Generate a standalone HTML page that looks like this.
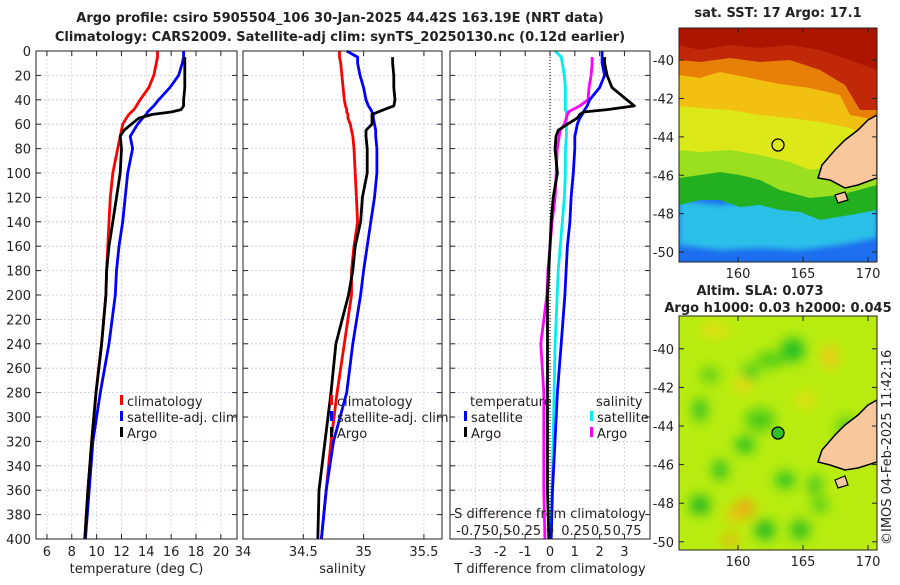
<!DOCTYPE html>
<html><head><meta charset="utf-8"><style>
body{margin:0;background:#fff;}
svg text{font-family:"DejaVu Sans","Liberation Sans",sans-serif;fill:#222;}
.t{font-size:13px;}
.b{font-weight:bold;font-size:13px;}
</style></head><body>
<svg id="c" width="900" height="580" viewBox="0 0 900 580" xmlns="http://www.w3.org/2000/svg">
<defs>
<filter id="bl" x="-20%" y="-20%" width="140%" height="140%"><feGaussianBlur stdDeviation="6"/></filter>
<filter id="bl2"><feGaussianBlur stdDeviation="3"/></filter>
<clipPath id="cm1"><rect x="679" y="28" width="198" height="234"/></clipPath>
<clipPath id="cm2"><rect x="679" y="316" width="198" height="234"/></clipPath>
</defs>
<text class="b" x="340" y="22" text-anchor="middle">Argo profile: csiro 5905504_106 30-Jan-2025 44.42S 163.19E (NRT data)</text>
<text class="b" x="340" y="41" text-anchor="middle">Climatology: CARS2009. Satellite-adj clim: synTS_20250130.nc (0.12d earlier)</text>
<g id="panels"></g>

<g clip-path="url(#cm1)">
<rect x="679" y="28" width="198" height="234" fill="#1e6ef0"/>
<path d="M679,200 L720,205 L760,200 L800,205 L840,205 L877,195 L877,238 L840,245 L800,250 L760,248 L720,250 L679,245Z" fill="#2cc0e8" filter="url(#bl2)"/>
<path d="M679,28 H877 V210 L850,215 L820,220 L800,212 L780,210 L760,205 L740,207 L720,200 L700,200 L679,205Z" fill="#22b020"/>
<path d="M679,28 H877 V185 L840,195 L810,198 L780,190 L760,180 L740,175 L720,172 L700,175 L679,178Z" fill="#9be020"/>
<path d="M679,28 H877 V160 L840,165 L810,170 L790,162 L760,155 L730,150 L700,152 L679,150Z" fill="#dde818"/>
<path d="M679,28 H877 V140 L850,128 L820,122 L790,118 L760,115 L730,110 L700,108 L679,106Z" fill="#f2c010"/>
<path d="M679,28 H877 V120 L850,115 L840,95 L810,88 L780,84 L750,78 L720,72 L700,78 L679,75Z" fill="#e88008"/>
<path d="M679,28 H877 V110 L860,110 L845,85 L820,70 L790,60 L760,62 L730,58 L700,62 L679,60Z" fill="#c02808"/>
<path d="M679,28 H877 V70 L850,60 L820,50 L790,45 L760,48 L730,45 L700,50 L679,45Z" fill="#a81000" opacity="0.8"/>
<path d="M877,115 L868,120 L858,130 L845,140 L835,150 L822,165 L818,178 L830,180 L845,188 L858,185 L877,178Z" fill="#f8c89c" stroke="#000" stroke-width="1.5"/>
<path d="M835,195 L845,192 L848,200 L838,203Z" fill="#f8c89c" stroke="#000" stroke-width="1.2"/>
<circle cx="778" cy="145" r="6" fill="none" stroke="#000" stroke-width="1.3"/>
</g>
<rect x="679" y="28" width="198" height="234" fill="none" stroke="#222" stroke-width="1"/>
<text class="b" x="778" y="17" text-anchor="middle">sat. SST: 17 Argo: 17.1</text>

<g clip-path="url(#cm2)">
<rect x="679" y="316" width="198" height="234" fill="#b8ec10"/>
<g filter="url(#bl)">
<ellipse cx="793" cy="350" rx="12" ry="12" fill="#22c020"/>
<ellipse cx="750" cy="373" rx="8" ry="8" fill="#30c820"/>
<ellipse cx="710" cy="375" rx="10" ry="8" fill="#60d018"/>
<ellipse cx="770" cy="360" rx="15" ry="8" fill="#50cc18"/>
<ellipse cx="700" cy="410" rx="7" ry="12" fill="#30c020"/>
<ellipse cx="760" cy="420" rx="15" ry="12" fill="#50cc18"/>
<ellipse cx="745" cy="445" rx="10" ry="8" fill="#22c020"/>
<ellipse cx="720" cy="470" rx="8" ry="10" fill="#30c020"/>
<ellipse cx="785" cy="480" rx="10" ry="8" fill="#22c020"/>
<ellipse cx="700" cy="505" rx="10" ry="10" fill="#22b820"/>
<ellipse cx="765" cy="530" rx="10" ry="10" fill="#22b820"/>
<ellipse cx="800" cy="530" rx="10" ry="10" fill="#30c020"/>
<ellipse cx="815" cy="485" rx="6" ry="10" fill="#30c020"/>
<ellipse cx="820" cy="505" rx="8" ry="8" fill="#50cc18"/>
<ellipse cx="846" cy="430" rx="10" ry="15" fill="#60d018"/>
<ellipse cx="745" cy="508" rx="10" ry="8" fill="#f0a010"/>
<ellipse cx="735" cy="515" rx="8" ry="8" fill="#f0c010"/>
<ellipse cx="730" cy="540" rx="8" ry="6" fill="#f0b010"/>
<ellipse cx="830" cy="357" rx="8" ry="12" fill="#f0c818"/>
<ellipse cx="743" cy="385" rx="8" ry="8" fill="#f0d818"/>
<ellipse cx="715" cy="330" rx="15" ry="6" fill="#ecdc18"/>
<ellipse cx="805" cy="400" rx="8" ry="8" fill="#ecdc18"/>
</g>
<path d="M877,400 L868,405 L858,415 L845,425 L835,435 L822,450 L818,462 L830,465 L845,470 L858,468 L877,462Z" fill="#f8c89c" stroke="#000" stroke-width="1.5"/>
<path d="M835,480 L845,476 L848,485 L838,488Z" fill="#f8c89c" stroke="#000" stroke-width="1.2"/>
<circle cx="778" cy="433" r="6" fill="#30c020" stroke="#000" stroke-width="1.3"/>
</g>
<rect x="679" y="316" width="198" height="234" fill="none" stroke="#222" stroke-width="1"/>
<text class="b" x="760" y="295" text-anchor="middle">Altim. SLA: 0.073</text>
<text class="b" x="778" y="312" text-anchor="middle">Argo h1000: 0.03 h2000: 0.045</text>
<text class="t" x="0" y="0" transform="translate(891,545) rotate(-90)">©IMOS 04-Feb-2025 11:42:16</text>
<g id="mapaxes"></g>
</svg>
<script>
var NS="http://www.w3.org/2000/svg";
var P=document.getElementById('panels');
var depths=[0,5,10,20,30,40,45,48,50,52,55,60,65,70,80,100,120,140,160,180,200,240,280,320,360,400];
var tempClim=[14.9,14.9,14.8,14.6,14.2,13.5,13.2,13.0,12.8,12.6,12.4,12.1,12.0,11.9,11.7,11.3,11.1,11.0,10.9,10.8,10.75,10.4,9.95,9.6,9.3,9.05];
var tempSat=[17.0,17.0,16.9,16.6,15.9,15.0,14.6,14.3,14.1,14.0,13.7,13.3,13.0,12.7,12.9,12.5,12.3,12.1,11.8,11.6,11.5,11.0,10.3,9.7,9.4,9.1];
var tempArgo=[null,17.1,17.1,17.1,17.1,17.0,17.0,16.8,16.0,14.5,13.4,12.8,12.2,11.9,12.0,11.9,11.6,11.3,11.0,10.8,10.75,10.4,9.95,9.6,9.3,9.05];
var salClim=[34.80,34.80,34.81,34.82,34.83,34.84,34.85,34.86,34.86,34.87,34.87,34.89,34.90,34.91,34.92,34.93,34.94,34.95,34.92,34.90,34.90,34.84,34.78,34.73,34.69,34.65];
var salSat=[34.86,34.95,34.95,34.97,35.00,35.02,35.04,35.06,35.07,35.08,35.08,35.09,35.10,35.10,35.11,35.11,35.09,35.06,35.03,35.00,34.975,34.91,34.86,34.75,34.69,34.65];
var salArgo=[null,35.24,35.24,35.25,35.25,35.26,35.25,35.17,35.12,35.07,35.07,35.07,35.02,35.02,35.03,35.03,34.99,34.975,34.93,34.91,34.875,34.77,34.73,34.68,34.63,34.62];
var dTSat=[2.1,2.1,2.1,2.2,2.0,1.6,1.5,1.4,1.35,1.3,1.2,1.1,1.05,1.0,1.0,0.94,0.85,0.8,0.7,0.65,0.6,0.45,0.3,0.2,0.1,0.05];
var dTArgo=[null,2.2,2.2,2.3,2.5,3.1,3.4,2.3,1.35,1.2,1.1,0.7,0.33,0.24,0.2,0.3,0.13,0.05,0.0,-0.05,-0.1,-0.1,-0.1,-0.1,-0.1,-0.05];
var dSSat=[0.05,0.11,0.12,0.14,0.15,0.15,0.15,0.15,0.16,0.16,0.16,0.16,0.16,0.16,0.15,0.15,0.14,0.12,0.1,0.08,0.07,0.05,0.04,0.03,0.02,0.01];
var dSArgo=[null,0.41,0.41,0.40,0.38,0.37,0.29,0.22,0.18,0.17,0.16,0.14,0.1,0.09,0.07,0.06,0.05,0.02,0.0,-0.02,-0.03,-0.09,-0.06,-0.06,-0.06,-0.05];
var yTicks=[0,20,40,60,80,100,120,140,160,180,200,220,240,260,280,300,320,340,360,380,400];
var tTicks=[6,8,10,12,14,16,18,20];
var sTicks=[34,34.5,35,35.5];
var dTicks=[-3,-2,-1,0,1,2,3];
var dSTicks=[-0.75,-0.5,-0.25,0,0.25,0.5,0.75];
var dSLabels=['-0.75','-0.5','-0.25','0','0.25','0.5','0.75'];
var Y0=51,Y1=539;
function y(d){return Y0+(d/400)*(Y1-Y0);}
function mk(tag,at,par){var e=document.createElementNS(NS,tag);for(var k in at)e.setAttribute(k,at[k]);(par||P).appendChild(e);return e;}
function txt(s,x,yy,anchor,par){var e=mk('text',{x:x,y:yy,'text-anchor':anchor||'middle','class':'t'},par);e.textContent=s;return e;}
var panels=[
 {x0:36,x1:237,min:5.12,max:21.3,ticks:tTicks,label:'temperature (deg C)',name:'temperature'},
 {x0:243,x1:442,min:34,max:35.65,ticks:sTicks,label:'salinity',name:'salinity'},
 {x0:450,x1:650,min:-4.03,max:4.03,ticks:dTicks,label:'T difference from climatology',name:'difference'}];
panels.forEach(function(p,i){
 p.x=function(v){return p.x0+(v-p.min)/(p.max-p.min)*(p.x1-p.x0);};
 var g=mk('g',{});
 
 
 p.g=g;
 yTicks.forEach(function(d){
  mk('line',{x1:p.x0,x2:p.x1,y1:y(d),y2:y(d),stroke:'#c4c8e4','stroke-width':0.8,'stroke-dasharray':'2,2'},g);
  mk('line',{x1:p.x0,x2:p.x0+5,y1:y(d),y2:y(d),stroke:'#222'},g);
  mk('line',{x1:p.x1-5,x2:p.x1,y1:y(d),y2:y(d),stroke:'#222'},g);
  if(i==0){var t=txt(String(d),31,y(d)+5,'end',g);}
 });
 p.ticks.forEach(function(v){
  var xx=p.x(v);
  mk('line',{x1:xx,x2:xx,y1:Y0,y2:Y1,stroke:'#e4c8c8','stroke-width':0.8,'stroke-dasharray':'2,2'},g);
  mk('line',{x1:xx,x2:xx,y1:Y1,y2:Y1-5,stroke:'#222'},g);
  mk('line',{x1:xx,x2:xx,y1:Y0,y2:Y0+5,stroke:'#222'},g);
  var t=txt(String(v),xx,556,'middle',g);
  
  
 });
 var xl=txt(p.label,(p.x0+p.x1)/2,573,'middle',g);
 
 
});
function line(p,vals,col,name,conv){
 var pts=[];
 for(var i=0;i<depths.length;i++){if(vals[i]==null)continue;var v=conv?conv(vals[i]):vals[i];pts.push(p.x(v).toFixed(1)+','+y(depths[i]).toFixed(1));}
 var e=mk('polyline',{points:pts.join(' '),fill:'none',stroke:col,'stroke-width':2.8,'stroke-linejoin':'round'},p.g);
 
 
}
var p1=panels[0],p2=panels[1],p3=panels[2];
line(p1,tempClim,'#f00','temp-climatology-line');
line(p1,tempSat,'#00f','temp-satellite-line');
line(p1,tempArgo,'#000','temp-argo-line');
line(p2,salClim,'#f00','sal-climatology-line');
line(p2,salSat,'#00f','sal-satellite-line');
line(p2,salArgo,'#000','sal-argo-line');
mk('line',{x1:p3.x(0),x2:p3.x(0),y1:Y0,y2:Y1,stroke:'#000','stroke-width':1,'stroke-dasharray':'1,2'},p3.g);
var sConv=function(s){return s*(77/0.75)/24.8;};
line(p3,dSSat,'#0ee','dsal-satellite-line',sConv);
line(p3,dSArgo,'#f0f','dsal-argo-line',sConv);
line(p3,dTSat,'#00f','dtemp-satellite-line');
line(p3,dTArgo,'#000','dtemp-argo-line');
dSTicks.forEach(function(v,k){var t=txt(dSLabels[k],p3.x(sConv(v)),535,'middle',p3.g);});
var st=txt('S difference from climatology',550,518,'middle',p3.g);


panels.forEach(function(p){mk('rect',{x:p.x0,y:Y0,width:p.x1-p.x0,height:Y1-Y0,fill:'none',stroke:'#222','stroke-width':1},p.g);});
function leg(x,yy,col,label,g){
 mk('rect',{x:x,y:yy-11,width:3,height:10,fill:col},g);
 var t=txt(label,x+7,yy,'start',g);
 
 
}
leg(120,406,'#f00','climatology',p1.g);leg(120,422,'#00f','satellite-adj. clim',p1.g);leg(120,438,'#000','Argo',p1.g);
leg(330,406,'#f00','climatology',p2.g);leg(330,422,'#00f','satellite-adj. clim',p2.g);leg(330,438,'#000','Argo',p2.g);
txt('temperature',470,406,'start',p3.g);txt('salinity',596,406,'start',p3.g);
leg(464,422,'#00f','satellite',p3.g);leg(464,438,'#000','Argo',p3.g);
leg(590,422,'#0ee','satellite',p3.g);leg(590,438,'#f0f','Argo',p3.g);
var M=document.getElementById('mapaxes');
var lats=[-40,-42,-44,-46,-48,-50];
var lons=[160,165,170];
function mapAx(top,bot,latTop,latPx){
 lats.forEach(function(l){var yy=top+(latTop-l)*latPx;
  mk('line',{x1:679,x2:684,y1:yy,y2:yy,stroke:'#222'},M);mk('line',{x1:872,x2:877,y1:yy,y2:yy,stroke:'#222'},M);
  var t=txt(String(l),674,yy+5,'end',M);});
 lons.forEach(function(l){var xx=679+(l-155.46)*13;
  mk('line',{x1:xx,x2:xx,y1:bot,y2:bot-5,stroke:'#222'},M);mk('line',{x1:xx,x2:xx,y1:top,y2:top+5,stroke:'#222'},M);
  var t=txt(String(l),xx,bot+16,'middle',M);});
}
mapAx(28,262,-38.33,19.2);
mapAx(316,550,-38.3,19.3);
</script>
</body></html>
